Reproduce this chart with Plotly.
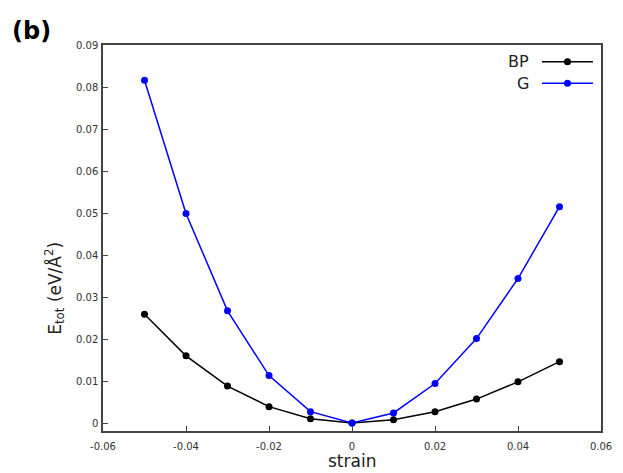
import plotly.graph_objects as go

strain = [-0.05, -0.04, -0.03, -0.02, -0.01, 0.0, 0.01, 0.02, 0.03, 0.04, 0.05]
e_bp = [0.0259, 0.0160, 0.0088, 0.0039, 0.0010, 0.0, 0.0008, 0.0027, 0.0057, 0.0098, 0.0146]
e_g = [0.0816, 0.0499, 0.0267, 0.0113, 0.0027, 0.0, 0.0024, 0.0094, 0.0201, 0.0344, 0.0515]
series_names = ["BP", "G"]
series_colors = ["black", "#0000ff"]
x_ticks = [-0.06, -0.04, -0.02, 0, 0.02, 0.04, 0.06]
x_labels = ["-0.06", "-0.04", "-0.02", "0", "0.02", "0.04", "0.06"]
y_ticks = [0, 0.01, 0.02, 0.03, 0.04, 0.05, 0.06, 0.07, 0.08, 0.09]
y_labels = ["0", "0.01", "0.02", "0.03", "0.04", "0.05", "0.06", "0.07", "0.08", "0.09"]

fig = go.Figure()
for name, ys, col in zip(series_names, [e_bp, e_g], series_colors):
    fig.add_trace(go.Scatter(x=strain, y=ys, mode="lines+markers", name=name,
                             line=dict(color=col, width=1.5),
                             marker=dict(color=col, size=7), showlegend=False))

axis_common = dict(showline=True, mirror=True, linecolor="#444", linewidth=1.5,
                   showgrid=False, zeroline=False, ticks="inside", ticklen=5,
                   tickcolor="#444", tickwidth=1,
                   tickfont=dict(family="DejaVu Sans", size=10, color="#333"))

# page has an 8px body margin; compensate so the plot box lands where it should
PW, PH = 498, 386  # plot-area size in px

annotations = [
    dict(text="<b>(b)</b>", xref="paper", yref="paper", x=-0.187, y=1.036,
         xanchor="left", yanchor="middle", showarrow=False,
         font=dict(family="DejaVu Sans", size=24, color="black")),
    dict(text="strain", xref="paper", yref="paper", x=0.5, y=-0.079,
         xanchor="center", yanchor="middle", showarrow=False,
         font=dict(family="DejaVu Sans", size=17, color="#222")),
    dict(text="E<sub>tot</sub> (eV/Å<sup>2</sup>)", xref="paper", yref="paper",
         x=-0.097, y=0.37, textangle=-90, xanchor="center", yanchor="middle",
         showarrow=False, font=dict(family="DejaVu Sans", size=17, color="#222")),
]
shapes = []
legend_y = [0.9567, 0.9008]
for name, col, ly in zip(series_names, series_colors, legend_y):
    annotations.append(dict(text=name, xref="paper", yref="paper", x=0.8594, y=ly,
                            xanchor="right", yanchor="middle", showarrow=False,
                            font=dict(family="DejaVu Sans", size=16, color="#222")))
    shapes.append(dict(type="line", xref="paper", yref="paper", x0=0.8815, x1=0.9839,
                       y0=ly, y1=ly, line=dict(color=col, width=1.5)))
    rx, ry = 3.5 / PW, 3.5 / PH
    shapes.append(dict(type="circle", xref="paper", yref="paper",
                       x0=0.9327 - rx, x1=0.9327 + rx, y0=ly - ry, y1=ly + ry,
                       fillcolor=col, line=dict(color=col, width=0)))

fig.update_layout(
    width=615, height=465,
    margin=dict(l=95, r=22, t=37, b=42, pad=0),
    paper_bgcolor="white", plot_bgcolor="white",
    font=dict(family="DejaVu Sans"),
    xaxis=dict(range=[-0.06, 0.06], tickvals=x_ticks, ticktext=x_labels,
               ticklabelstandoff=5, **axis_common),
    yaxis=dict(range=[-0.0019, 0.09], tickvals=y_ticks, ticktext=y_labels,
               ticklabelstandoff=1, **axis_common),
    annotations=annotations,
    shapes=shapes,
)

fig.write_html("out.html")
